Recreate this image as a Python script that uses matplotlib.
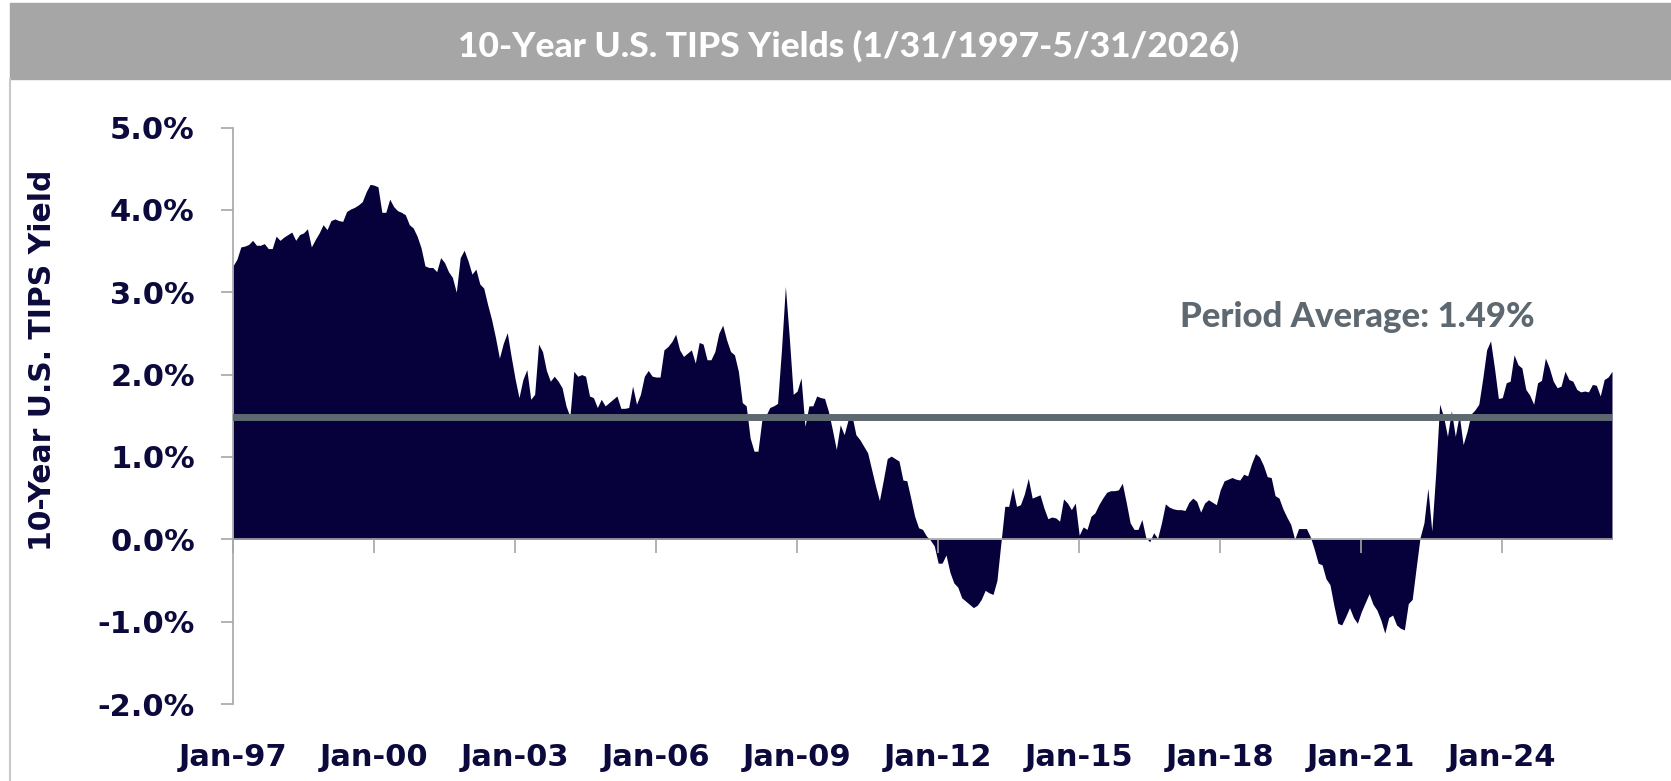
import matplotlib.pyplot as plt
import numpy as np
from matplotlib.patches import Rectangle
from matplotlib.lines import Line2D

# month-end 10-year TIPS yields (%), Jan-1997 .. May-2026, one row per year
tips_yield = [
    3.32, 3.40, 3.55, 3.56, 3.58, 3.63, 3.57, 3.57, 3.59, 3.53, 3.53, 3.68,  # 1997
    3.63, 3.67, 3.70, 3.73, 3.63, 3.70, 3.72, 3.77, 3.55, 3.64, 3.72, 3.82,  # 1998
    3.76, 3.87, 3.89, 3.87, 3.86, 3.98, 4.01, 4.03, 4.06, 4.10, 4.22, 4.31,  # 1999
    4.30, 4.28, 3.97, 3.97, 4.13, 4.04, 3.99, 3.97, 3.94, 3.82, 3.78, 3.68,  # 2000
    3.54, 3.32, 3.30, 3.30, 3.25, 3.42, 3.36, 3.25, 3.18, 3.00, 3.42, 3.51,  # 2001
    3.38, 3.22, 3.28, 3.10, 3.05, 2.85, 2.67, 2.45, 2.20, 2.38, 2.51, 2.22,  # 2002
    1.95, 1.72, 1.94, 2.06, 1.70, 1.76, 2.37, 2.28, 2.05, 1.92, 1.98, 1.92,  # 2003
    1.84, 1.62, 1.49, 2.04, 1.98, 2.00, 1.98, 1.74, 1.72, 1.60, 1.70, 1.62,  # 2004
    1.66, 1.70, 1.74, 1.59, 1.59, 1.60, 1.86, 1.64, 1.76, 1.98, 2.05, 1.98,  # 2005
    1.97, 1.97, 2.30, 2.34, 2.40, 2.49, 2.30, 2.22, 2.26, 2.30, 2.14, 2.39,  # 2006
    2.37, 2.18, 2.18, 2.28, 2.50, 2.60, 2.42, 2.28, 2.24, 2.04, 1.66, 1.62,  # 2007
    1.23, 1.07, 1.07, 1.45, 1.50, 1.60, 1.62, 1.65, 2.30, 3.07, 2.45, 1.76,  # 2008
    1.80, 1.96, 1.37, 1.62, 1.62, 1.74, 1.72, 1.71, 1.55, 1.33, 1.09, 1.39,  # 2009
    1.27, 1.45, 1.50, 1.27, 1.21, 1.13, 1.05, 0.85, 0.65, 0.47, 0.72, 0.98,  # 2010
    1.01, 0.98, 0.95, 0.72, 0.71, 0.50, 0.28, 0.14, 0.12, 0.04, -0.01, -0.08,  # 2011
    -0.29, -0.29, -0.19, -0.40, -0.53, -0.58, -0.71, -0.75, -0.79, -0.83, -0.80, -0.73,  # 2012
    -0.62, -0.65, -0.67, -0.50, -0.05, 0.40, 0.40, 0.63, 0.40, 0.42, 0.55, 0.74,  # 2013
    0.50, 0.52, 0.54, 0.38, 0.25, 0.27, 0.26, 0.22, 0.49, 0.44, 0.36, 0.44,  # 2014
    0.05, 0.15, 0.12, 0.28, 0.32, 0.42, 0.50, 0.57, 0.59, 0.59, 0.60, 0.68,  # 2015
    0.45, 0.20, 0.12, 0.12, 0.24, 0.02, -0.03, 0.08, 0.01, 0.20, 0.43, 0.39,  # 2016
    0.37, 0.36, 0.36, 0.35, 0.45, 0.50, 0.46, 0.33, 0.44, 0.48, 0.45, 0.42,  # 2017
    0.60, 0.71, 0.73, 0.75, 0.73, 0.72, 0.79, 0.77, 0.92, 1.04, 1.00, 0.90,  # 2018
    0.76, 0.75, 0.53, 0.50, 0.37, 0.27, 0.18, 0.00, 0.13, 0.13, 0.13, 0.03,  # 2019
    -0.12, -0.29, -0.31, -0.48, -0.55, -0.80, -1.02, -1.04, -0.94, -0.83, -0.95, -1.02,  # 2020
    -0.88, -0.77, -0.66, -0.79, -0.86, -0.98, -1.14, -0.95, -0.92, -1.04, -1.08, -1.10,  # 2021
    -0.78, -0.73, -0.35, 0.02, 0.20, 0.62, 0.10, 0.80, 1.64, 1.49, 1.25, 1.56,  # 2022
    1.25, 1.51, 1.15, 1.31, 1.52, 1.57, 1.64, 1.95, 2.30, 2.41, 2.08, 1.71,  # 2023
    1.72, 1.90, 1.92, 2.24, 2.12, 2.08, 1.82, 1.75, 1.64, 1.90, 1.93, 2.20,  # 2024
    2.08, 1.92, 1.84, 1.86, 2.04, 1.94, 1.92, 1.82, 1.79, 1.80, 1.79, 1.88,  # 2025
    1.87, 1.74, 1.94, 1.97, 2.04,  # 2026
]
tick_labels = ['Jan-97', 'Jan-00', 'Jan-03', 'Jan-06', 'Jan-09',
               'Jan-12', 'Jan-15', 'Jan-18', 'Jan-21', 'Jan-24']
period_average = 1.49
y_ticks = [-2, -1, 0, 1, 2, 3, 4, 5]

navy = '#06013a'
text_navy = '#0c0a3c'
avg_grey = '#5d6870'
axis_grey = '#a6a6a6'

plt.rcParams['font.family'] = 'DejaVu Sans'
plt.rcParams['font.weight'] = 'bold'

W, H = 1671, 781
fig = plt.figure(figsize=(W / 100, H / 100), dpi=100)

# title bar + left frame line
fig.patches.append(Rectangle((10 / W, 1 - 79 / H), 1 - 10 / W, 76 / H,
                             transform=fig.transFigure, color=axis_grey, zorder=0))
fig.add_artist(Line2D([10 / W, 10 / W], [0, 1 - 79 / H], transform=fig.transFigure,
                      color='#c8c8c8', lw=1.5))
fig.text(849 / W, 1 - 46 / H, '10-Year U.S. TIPS Yields (1/31/1997-5/31/2026)',
         ha='center', va='center', color='white', fontsize=25.5,
         family='Lato', weight='black')

ax = fig.add_axes([233 / W, 1 - 704 / H, (1612 - 233) / W, (704 - 127.5) / H])
x = np.arange(len(tips_yield))
ax.fill_between(x, 0, tips_yield, color=navy, lw=0, zorder=1)
ax.axhline(period_average, color=avg_grey, lw=5, zorder=3)
ax.axhline(0, color=axis_grey, lw=1.2, zorder=4)

ax.set_xlim(0, len(tips_yield) - 1)
ax.set_ylim(-2, 5)

for s in ['top', 'right', 'bottom']:
    ax.spines[s].set_visible(False)
ax.spines['left'].set_color(axis_grey)
ax.spines['left'].set_linewidth(1.2)

ax.set_yticks(y_ticks)
ax.set_yticklabels([f'{v:.1f}%' for v in y_ticks])
ax.tick_params(axis='y', length=9, width=1.2, color=axis_grey, pad=18.5,
               labelsize=22, labelcolor=text_navy)

tick_pos = x[::36][:len(tick_labels)]
ax.set_xticks(tick_pos)
ax.set_xticklabels(tick_labels)
ax.tick_params(axis='x', length=0, pad=28, labelsize=22, labelcolor=text_navy)

# tick marks sitting on the zero line
secax = ax.secondary_xaxis(2 / 7)
secax.set_xticks(tick_pos)
secax.tick_params(length=10, width=1.2, color=axis_grey, labelbottom=False, labeltop=False)
for s in secax.spines.values():
    s.set_visible(False)
secax.set_zorder(5)

ax.text(287, 2.70, f'Period Average: {period_average:.2f}%', ha='center', va='center',
        color=avg_grey, fontsize=25, family='Lato', weight='black')

fig.text(43 / W, 1 - 360 / H, '10-Year U.S. TIPS Yield', rotation=90,
         ha='center', va='center', fontsize=21.5, color=text_navy, weight='bold')

fig.savefig('out.png', dpi=100)
